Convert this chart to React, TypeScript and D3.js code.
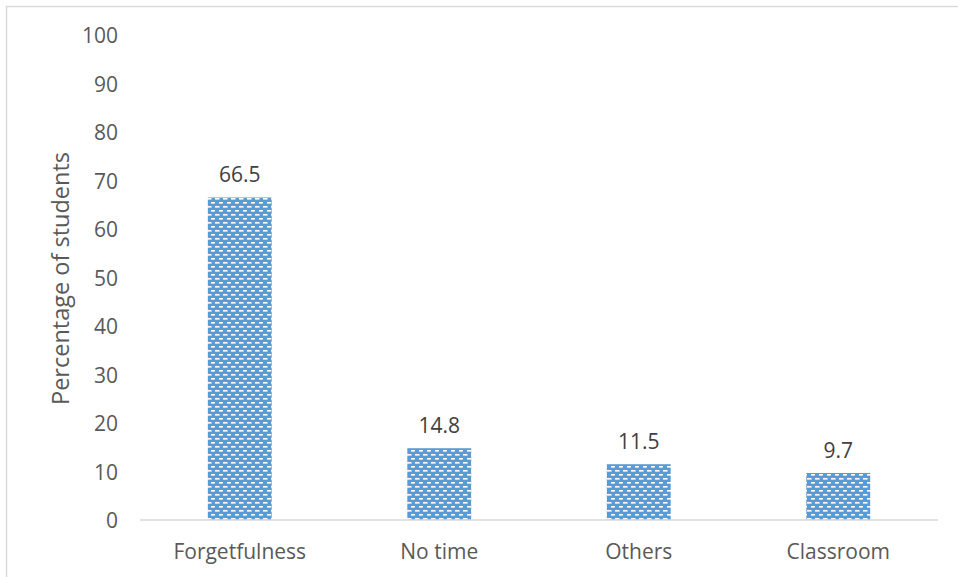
import React from "react";
import * as d3 from "d3";

const categories = ["Forgetfulness", "No time", "Others", "Classroom"];
const values = [66.5, 14.8, 11.5, 9.7];
const yTicks = [0, 10, 20, 30, 40, 50, 60, 70, 80, 90, 100];
const yTitle = "Percentage of students";

const W = 958;
const H = 577;
const FONT = "'Open Sans', sans-serif";
const TEXT = "#595959";
const BAR = "#5B9BD5";

export default function App() {
  const x = d3.scaleBand<string>().domain(categories).range([140, 938]);
  const y = d3.scaleLinear().domain([0, 100]).range([520, 35]);
  const barW = x.bandwidth() * 0.32;

  return (
    <svg
      width={W}
      height={H}
      style={{ position: "absolute", left: 0, top: 0, background: "#fff" }}
      fontFamily={FONT}
    >
      <defs>
        <pattern id="brick" width={8} height={8} patternUnits="userSpaceOnUse" x={207} y={198}>
          <rect width={8} height={8} fill={BAR} />
          <rect x={0} y={0} width={4.5} height={1.6} fill="#fff" />
          <rect x={4} y={4} width={4.5} height={1.6} fill="#fff" />
        </pattern>
      </defs>
      <rect x={0} y={0} width={W} height={H} fill="#fff" />
      <rect x={6.5} y={6.5} width={W + 10} height={H + 10} fill="none" stroke="#d9d9d9" strokeWidth={1.5} />

      {yTicks.map((t) => (
        <text
          key={t}
          x={118}
          y={y(t)}
          textAnchor="end"
          dominantBaseline="central"
          fontSize={21}
          fill={TEXT}
        >
          {t}
        </text>
      ))}

      <text
        transform={`translate(60,${y(50) + 1}) rotate(-90)`}
        textAnchor="middle"
        dominantBaseline="central"
        fontSize={23.5}
        fill={TEXT}
      >
        {yTitle}
      </text>

      {categories.map((c, i) => {
        const cx = (x(c) as number) + x.bandwidth() / 2;
        return (
          <g key={c}>
            <rect
              x={cx - barW / 2}
              y={y(values[i])}
              width={barW}
              height={y(0) - y(values[i])}
              fill="url(#brick)"
            />
            <text
              x={cx}
              y={y(values[i]) - 23}
              textAnchor="middle"
              dominantBaseline="central"
              fontSize={21}
              fill="#404040"
            >
              {values[i]}
            </text>
            <text
              x={cx}
              y={551}
              textAnchor="middle"
              dominantBaseline="central"
              fontSize={21}
              fill={TEXT}
            >
              {c}
            </text>
          </g>
        );
      })}

      <line x1={140} x2={938} y1={y(0)} y2={y(0)} stroke="#d9d9d9" strokeWidth={1.5} />
    </svg>
  );
}
